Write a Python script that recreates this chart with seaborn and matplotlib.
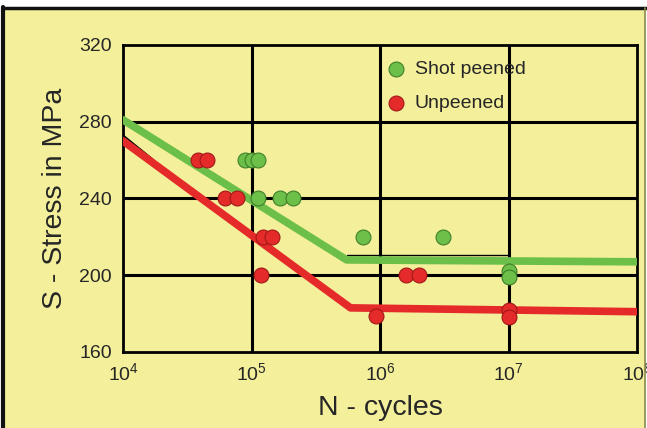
import numpy as np
import pandas as pd
import seaborn as sns
import matplotlib.pyplot as plt
from matplotlib.patches import Rectangle
from matplotlib.lines import Line2D

# Данные: точки испытаний
peened_N = [8.9e4, 1.0e5, 1.12e5, 1.12e5, 1.66e5, 2.1e5, 7.4e5, 3.1e6, 1.0e7, 1.0e7]
peened_S = [260, 260, 260, 240, 240, 240, 220, 220, 202, 199]
unpeened_N = [3.8e4, 4.5e4, 6.2e4, 7.7e4, 1.23e5, 1.44e5, 1.18e5, 1.6e6, 2.0e6, 9.3e5, 1.0e7, 1.0e7]
unpeened_S = [260, 260, 240, 240, 220, 220, 200, 200, 200, 179, 182, 178]

# Кривые S-N (ломаные)
peened_curve_N = [1e4, 5.5e5, 1e8]
peened_curve_S = [281, 208, 207]
unpeened_curve_N = [1e4, 5.9e5, 1e8]
unpeened_curve_S = [270, 183, 181]

groups = ['Shot peened', 'Unpeened']
colors = {'Shot peened': '#6cbf48', 'Unpeened': '#e52a2a'}
edges = {'Shot peened': '#3f7f2a', 'Unpeened': '#a01818'}

YELLOW = '#f3ef9b'

sns.set_style('white')
plt.rcParams['font.family'] = ['Liberation Sans', 'DejaVu Sans']

points = pd.DataFrame({
    'N': peened_N + unpeened_N,
    'S': peened_S + unpeened_S,
    'group': [groups[0]] * len(peened_N) + [groups[1]] * len(unpeened_N),
})
curves = pd.DataFrame({
    'N': peened_curve_N + unpeened_curve_N,
    'S': peened_curve_S + unpeened_curve_S,
    'group': [groups[0]] * 3 + [groups[1]] * 3,
})

W, H = 647, 428
fig = plt.figure(figsize=(W / 100, H / 100), dpi=100)
fig.patch.set_facecolor('white')

# Жёлтый фон с тёмной рамкой слева и сверху
fig.patches.append(Rectangle((4 / W, 0), 1 - 6 / W, 1 - 8 / H, transform=fig.transFigure,
                             facecolor=YELLOW, edgecolor='none', zorder=-1))
fig.add_artist(Line2D([3 / W, 3 / W], [0, 1 - 7 / H], color='#111111', lw=3, transform=fig.transFigure))
fig.add_artist(Line2D([3 / W, 1], [1 - 8 / H, 1 - 8 / H], color='#111111', lw=2.5, transform=fig.transFigure))
fig.add_artist(Line2D([1 - 2 / W, 1 - 2 / W], [0, 1 - 8 / H], color='#8a8a4a', lw=1.2, transform=fig.transFigure))

ax = fig.add_axes([123 / W, 1 - 352 / H, (637 - 123) / W, (352 - 45) / H])
ax.set_facecolor(YELLOW)

sns.lineplot(data=curves, x='N', y='S', hue='group', palette=colors, lw=5.5,
             legend=False, ax=ax, zorder=3, estimator=None, sort=False)
# тонкие чёрные линии под кривыми (как на рисунке)
ax.plot([1e4, 1.7e4], [273, 260.5], color='black', lw=1.2, zorder=2.5)
ax.plot([5.5e5, 1e7], [210.4, 210.4], color='black', lw=1.0, zorder=2.5)

for g in groups:
    sub = points[points['group'] == g]
    sns.scatterplot(data=sub, x='N', y='S', color=colors[g], edgecolor=edges[g],
                    linewidth=0.8, s=115, ax=ax, zorder=4, label=g)

ax.set_xscale('log')
ax.set_xlim(1e4, 1e8)
ax.set_ylim(160, 320)
ax.set_xticks([1e4, 1e5, 1e6, 1e7, 1e8])
ax.set_xticklabels([r'$\mathregular{10^{%d}}$' % p for p in [4, 5, 6, 7, 8]])
ax.set_yticks([160, 200, 240, 280, 320])
ax.minorticks_off()
ax.tick_params(length=0, labelsize=14, pad=7)
ax.tick_params(axis='y', pad=8)

for y in [200, 240, 280]:
    ax.axhline(y, color='black', lw=2.2, zorder=1)
for x in [1e5, 1e6, 1e7]:
    ax.axvline(x, color='black', lw=2.2, zorder=1)
for sp in ax.spines.values():
    sp.set_color('black')
    sp.set_linewidth(2)

ax.set_xlabel('N - cycles', fontsize=20.5, labelpad=8)
ax.set_ylabel('S - Stress in MPa', fontsize=20.5, labelpad=8)

leg = ax.legend(loc='upper left', bbox_to_anchor=(0.486, 0.995), frameon=False,
                fontsize=14, handlelength=1.0, handletextpad=0.45,
                labelspacing=0.85, borderaxespad=0.3)

fig.savefig('out.png', dpi=100, facecolor=fig.get_facecolor())
